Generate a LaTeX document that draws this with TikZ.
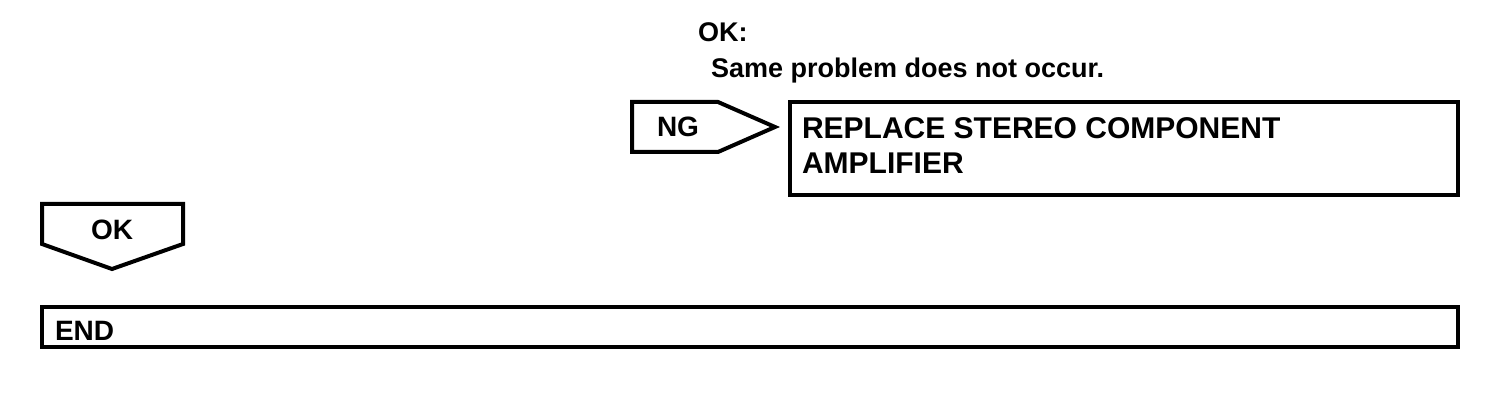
\documentclass[tikz,border=0pt]{standalone}
\usepackage{fontspec}
\setmainfont{Liberation Sans}
\begin{document}
\begin{tikzpicture}[x=1pt, y=-1pt, line width=4pt, line join=miter,
    lbl/.style={inner sep=0pt, anchor=base west, font=\fontsize{28}{35}\selectfont\bfseries},
    remark/.style={lbl, font=\fontsize{27}{34}\selectfont\bfseries},
    action/.style={lbl, font=\fontsize{30}{35}\selectfont\bfseries}]
    \useasboundingbox (0,0) rectangle (1504,406);

    % OK remark
    \node[remark] (okhead) at (696,42) {OK:};
    \node[remark] (okremark) at (709,78) {Same problem does not occur.};

    % NG branch
    \draw (632,102) -- (718,102) -- (775,127) -- (718,152) -- (632,152) -- cycle;
    \node[lbl, anchor=center] (ng) at (678,127) {NG};
    \draw (790,102) rectangle (1458,195);
    \node[action] (replace) at (800,139) {REPLACE STEREO COMPONENT};
    \node[action] (amplifier) at (800,174) {AMPLIFIER};

    % OK branch
    \draw (42,204) -- (42,244) -- (112,269) -- (183,244) -- (183,204) -- cycle;
    \node[lbl, anchor=center] (ok) at (112,230) {OK};

    % End
    \draw (42,307) rectangle (1458,347);
    \node[lbl] (finish) at (53,340) {END};
\end{tikzpicture}
\end{document}
